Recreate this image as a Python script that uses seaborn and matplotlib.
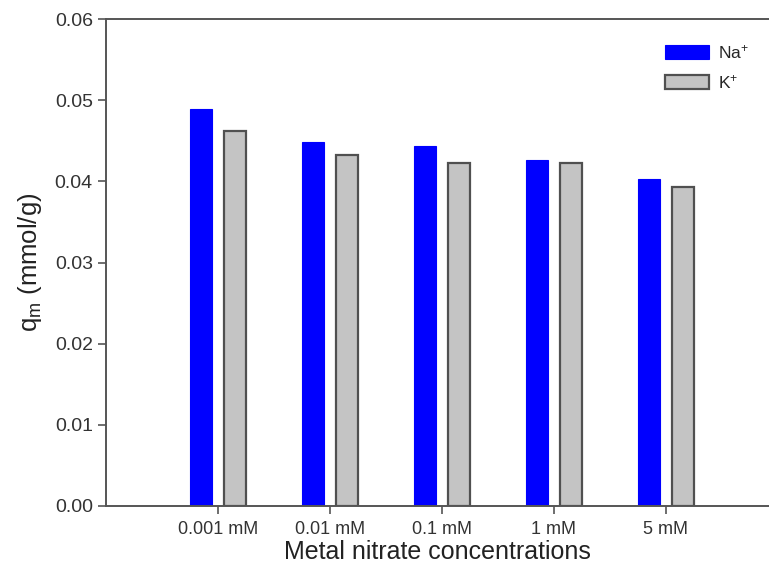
import matplotlib
matplotlib.use("Agg")
import matplotlib.pyplot as plt
import pandas as pd
import seaborn as sns

# values
concentrations = ["0.001 mM", "0.01 mM", "0.1 mM", "1 mM", "5 mM"]
na_values = [0.0489, 0.0448, 0.0444, 0.0426, 0.0403]
k_values = [0.0462, 0.0433, 0.0423, 0.0422, 0.0393]
ion_labels = ["Na$^{+}$", "K$^{+}$"]

df = pd.DataFrame({
    "conc": concentrations * 2,
    "qm": na_values + k_values,
    "ion": [ion_labels[0]] * len(concentrations) + [ion_labels[1]] * len(concentrations),
})

sns.set_style("white")
plt.rcParams["font.family"] = ["Liberation Sans", "DejaVu Sans"]
plt.rcParams["mathtext.default"] = "regular"

fig = plt.figure(figsize=(7.69, 5.78), dpi=100)
ax = fig.add_axes([106 / 769, 1 - 506 / 578, 663 / 769, 487 / 578])

sns.barplot(
    data=df, x="conc", y="qm", hue="ion", order=concentrations,
    hue_order=ion_labels, palette=["#0000ff", "#c4c4c4"], saturation=1,
    width=0.6, gap=0.35, ax=ax, legend=False,
)

# blue bars without outline, grey bars with a dark outline
for patch in ax.containers[0]:
    patch.set_edgecolor("#0000ff")
    patch.set_linewidth(0.8)
for patch in ax.containers[1]:
    patch.set_edgecolor("#505050")
    patch.set_linewidth(1.6)

ax.set_xlim(-1.0, 4.92)
ax.set_ylim(0, 0.06)
ax.set_yticks([0.00, 0.01, 0.02, 0.03, 0.04, 0.05, 0.06])
ax.set_yticklabels([f"{v:.2f}" for v in ax.get_yticks()])

ax.set_xlabel("Metal nitrate concentrations", fontsize=18, color="#222222", labelpad=1)
ax.set_ylabel("q$_{m}$ (mmol/g)", fontsize=18.5, color="#222222", labelpad=8)

for side in ["left", "top", "bottom"]:
    ax.spines[side].set_color("#555555")
    ax.spines[side].set_linewidth(1.4)
ax.spines["right"].set_visible(False)

ax.tick_params(axis="both", which="major", direction="out", length=6, width=1.2,
               color="#555555", labelcolor="#333333", labelsize=14,
               bottom=True, left=True)
ax.tick_params(axis="x", labelsize=13, pad=5)

ax.legend(
    ax.containers, ion_labels, loc="upper left", frameon=False,
    bbox_to_anchor=(665 / 769, 1 - 43 / 578), bbox_transform=fig.transFigure,
    fontsize=12.5, handlelength=2.55, handleheight=0.85, labelspacing=0.7,
    handletextpad=0.5, borderpad=0, borderaxespad=0,
)

fig.savefig("out.png", dpi=100)
